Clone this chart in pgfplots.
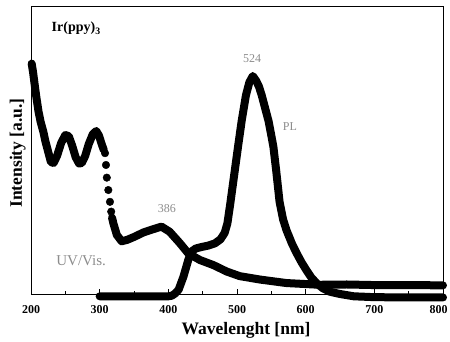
\documentclass[border=0pt]{standalone}
\usepackage{fontspec}
\setmainfont{Liberation Serif}
\usepackage{pgfplots}
\pgfplotsset{compat=1.18}
\begin{document}
\begin{tikzpicture}
\begin{axis}[
  scale only axis, width=412pt, height=288pt,
  xmin=200, xmax=800, ymin=0, ymax=1,
  clip=false,
  xtick={200,300,...,800},
  xticklabels={200,300,400,500,600,700,\kern-9pt 800},
  minor x tick num=1,
  ytick=\empty,
  tick align=inside,
  xtick pos=left,
  major tick length=5pt, minor tick length=3pt,
  /pgf/number format/assume math mode=true,
  xticklabel style={font=\fontsize{12}{12}\selectfont\bfseries, yshift=-8pt},
  xlabel={Wavelenght [nm]},
  ylabel={Intensity [a.u.]},
  xlabel style={font=\fontsize{17.5}{18}\selectfont\bfseries, at={(axis description cs:0.522,0)}, anchor=base, yshift=-41pt},
  ylabel style={font=\fontsize{17.5}{18}\selectfont\bfseries, at={(axis description cs:-0.022,0.49)}, anchor=base},
  axis line style={line width=0.9pt},
  every tick/.style={black, line width=0.8pt},
]
% UV/Vis absorption, first part
\addplot[black, line width=8pt, line join=round, line cap=round] coordinates {
(201,0.80) (203,0.77) (206,0.715) (208,0.68) (211,0.633) (214,0.598) (218,0.563) (221,0.53) (225,0.494) (229,0.458) (233,0.455) (238,0.48) (244,0.525) (250,0.552) (255,0.548) (260,0.515) (265,0.475) (270,0.453) (274,0.455) (279,0.48) (284,0.52) (290,0.555) (295,0.566) (299,0.55) (303,0.52) (306,0.50)
};
% UV/Vis separate dots on the steep drop
\addplot[only marks, mark=*, mark size=3.8pt, black] coordinates {
(307.8,0.489) (309.2,0.448) (310.4,0.404) (312.6,0.361) (315,0.320) (316.8,0.286)
};
% UV/Vis, second part
\addplot[black, line width=8pt, line join=round, line cap=round] coordinates {
(318,0.265) (320,0.245) (325,0.205) (332,0.183) (340,0.188) (350,0.198) (364,0.214) (378,0.225) (390,0.234) (402,0.216) (417,0.176) (429,0.141) (446,0.118) (466,0.10) (485,0.078) (504,0.062) (534,0.05) (572,0.038) (620,0.032) (660,0.033) (700,0.031) (750,0.031) (800,0.03)
};
% PL
\addplot[black, line width=8pt, line join=round, line cap=round] coordinates {
(300,-0.008) (350,-0.008) (400,-0.008) (405,-0.006) (410,0.002) (415,0.015) (422,0.06) (429,0.118) (434,0.148) (440,0.158) (448,0.163) (458,0.168) (468,0.176) (476,0.19) (482,0.212) (486,0.245) (490,0.31) (494,0.38) (498,0.45) (502,0.52) (507,0.604) (513,0.69) (518,0.735) (523,0.757) (528,0.74) (532,0.72) (536,0.69) (541,0.645) (546,0.60) (550,0.55) (553,0.511) (557,0.43) (562,0.32) (567,0.26) (572,0.222) (580,0.175) (587,0.141) (594,0.11) (601,0.083) (608,0.058) (616,0.037) (625,0.02) (635,0.008) (650,0.0) (670,-0.008) (700,-0.011) (750,-0.012) (800,-0.012)
};
\node[font=\fontsize{14}{14}\selectfont\bfseries, anchor=base west] at (axis cs:225,0.91) {Ir(ppy)\textsubscript{3}};
\node[text=black!45, font=\fontsize{15}{15}\selectfont] at (axis cs:273,0.115) {UV/Vis.};
\node[text=black!45, font=\fontsize{12}{12}\selectfont] at (axis cs:398,0.295) {386};
\node[text=black!45, font=\fontsize{12}{12}\selectfont] at (axis cs:522,0.816) {524};
\node[text=black!45, font=\fontsize{12}{12}\selectfont] at (axis cs:577,0.58) {PL};
\end{axis}
\pgfresetboundingbox
\path (-31pt,-48pt) rectangle (419pt,294pt);
\end{tikzpicture}
\end{document}
